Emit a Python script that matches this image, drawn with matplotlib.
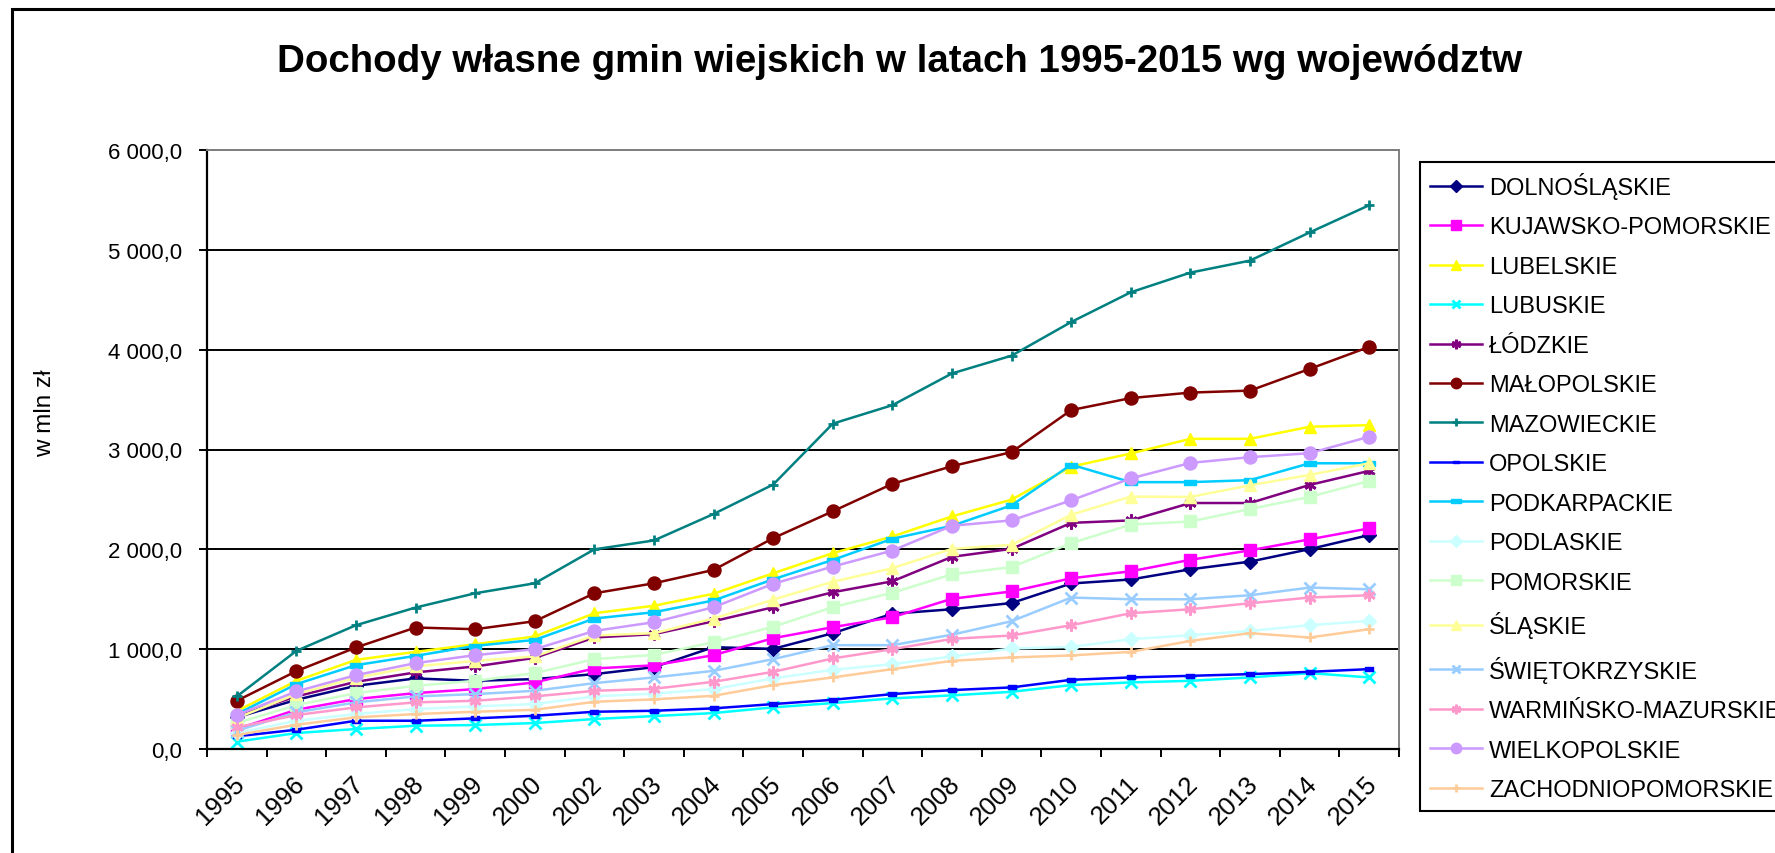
import matplotlib
matplotlib.use('Agg')
from matplotlib import pyplot as plt
from matplotlib.patches import Rectangle
from matplotlib.transforms import ScaledTranslation
from matplotlib.ticker import FuncFormatter, FixedLocator

plt.rcParams['font.family'] = ['Liberation Sans', 'DejaVu Sans']

years = ['1995', '1996', '1997', '1998', '1999', '2000', '2002', '2003', '2004', '2005',
         '2006', '2007', '2008', '2009', '2010', '2011', '2012', '2013', '2014', '2015']

# dochody w mln zl
dolnoslaskie = [317, 493, 633, 707, 683, 700, 750, 820, 1020, 1003, 1160, 1355, 1400, 1462, 1658, 1698, 1800, 1877, 2002, 2143]
kujawsko_pomorskie = [200, 393, 500, 560, 600, 667, 807, 838, 940, 1110, 1220, 1320, 1505, 1578, 1710, 1780, 1895, 1990, 2100, 2210]
lubelskie = [380, 683, 893, 973, 1050, 1127, 1360, 1435, 1555, 1760, 1962, 2129, 2330, 2498, 2828, 2960, 3107, 3107, 3228, 3244]
lubuskie = [73, 160, 200, 233, 240, 260, 300, 330, 360, 417, 460, 507, 537, 573, 640, 667, 683, 717, 760, 717]
lodzkie = [333, 527, 673, 767, 827, 913, 1117, 1150, 1280, 1420, 1570, 1680, 1925, 2005, 2265, 2290, 2464, 2464, 2645, 2786]
malopolskie = [483, 780, 1017, 1217, 1200, 1280, 1560, 1660, 1794, 2112, 2381, 2656, 2833, 2974, 3395, 3515, 3570, 3590, 3807, 4028]
mazowieckie = [527, 983, 1240, 1417, 1560, 1660, 2000, 2089, 2354, 2649, 3259, 3444, 3762, 3940, 4277, 4575, 4772, 4892, 5174, 5447]
opolskie = [127, 193, 283, 283, 307, 333, 373, 383, 407, 450, 493, 550, 590, 617, 693, 717, 733, 750, 773, 800]
podkarpackie = [350, 650, 840, 933, 1033, 1093, 1307, 1370, 1488, 1700, 1894, 2106, 2236, 2441, 2848, 2673, 2673, 2693, 2862, 2862]
podlaskie = [160, 283, 350, 400, 427, 450, 527, 555, 600, 707, 793, 850, 927, 1007, 1022, 1100, 1140, 1183, 1240, 1283]
pomorskie = [260, 440, 560, 633, 683, 760, 900, 943, 1070, 1224, 1421, 1565, 1750, 1822, 2062, 2248, 2279, 2404, 2525, 2685]
slaskie = [310, 550, 713, 827, 883, 927, 1137, 1160, 1307, 1496, 1675, 1811, 2005, 2045, 2346, 2528, 2525, 2641, 2746, 2862]
swietokrzyskie = [183, 367, 467, 527, 550, 583, 660, 717, 783, 900, 1040, 1040, 1145, 1280, 1517, 1500, 1500, 1540, 1617, 1600]
warminsko_mazurskie = [217, 340, 417, 467, 483, 527, 583, 603, 673, 773, 907, 1000, 1103, 1137, 1240, 1360, 1400, 1460, 1517, 1540]
wielkopolskie = [340, 577, 740, 860, 940, 1000, 1183, 1270, 1420, 1655, 1827, 1988, 2236, 2290, 2491, 2710, 2866, 2923, 2963, 3128]
zachodniopomorskie = [140, 243, 317, 350, 373, 393, 473, 497, 533, 640, 717, 800, 883, 917, 937, 973, 1083, 1160, 1117, 1200]

# maly prostokat jak "kreska" w Excelu
bar = [(-1, -0.4), (1, -0.4), (1, 0.4), (-1, 0.4), (-1, -0.4)]
star = (6, 2, 0)

series = [
    ('DOLNOŚLĄSKIE', dolnoslaskie, '#000080', 'D', 7.6),
    ('KUJAWSKO-POMORSKIE', kujawsko_pomorskie, '#FF00FF', 's', 8.8),
    ('LUBELSKIE', lubelskie, '#FFFF00', '^', 9.2),
    ('LUBUSKIE', lubuskie, '#00FFFF', 'x', 8),
    ('ŁÓDZKIE', lodzkie, '#800080', star, 8.6),
    ('MAŁOPOLSKIE', malopolskie, '#800000', 'o', 9.4),
    ('MAZOWIECKIE', mazowieckie, '#008080', '+', 7),
    ('OPOLSKIE', opolskie, '#0000FF', bar, 6),
    ('PODKARPACKIE', podkarpackie, '#00CCFF', bar, 9),
    ('PODLASKIE', podlaskie, '#CCFFFF', 'D', 7.6),
    ('POMORSKIE', pomorskie, '#CCFFCC', 's', 8.8),
    ('ŚLĄSKIE', slaskie, '#FFFF99', '^', 9.2),
    ('ŚWIĘTOKRZYSKIE', swietokrzyskie, '#99CCFF', 'x', 8),
    ('WARMIŃSKO-MAZURSKIE', warminsko_mazurskie, '#FF99CC', star, 8.6),
    ('WIELKOPOLSKIE', wielkopolskie, '#CC99FF', 'o', 9.4),
    ('ZACHODNIOPOMORSKIE', zachodniopomorskie, '#FFCC99', '+', 7.5),
]

fig = plt.figure(figsize=(17.75, 8.54), dpi=100)
ax = fig.add_axes([207 / 1775, 1 - 750 / 854, 1192 / 1775, 599 / 854])

x = list(range(len(years)))
for name, vals, color, marker, ms in series:
    mew = 2 if marker in ('x', '+') or marker == star else 1
    ax.plot(x, vals, color=color, lw=1.8, marker=marker, ms=ms,
            mfc=color, mec=color, mew=mew, label=name)

ax.set_xlim(-0.5, len(years) - 0.5)
ax.set_ylim(0, 6000)

# siatka i osie
ax.set_yticks(range(0, 6001, 1000))
ax.yaxis.set_major_formatter(FuncFormatter(lambda v, p: f'{v:,.1f}'.replace(',', ' ').replace('.', ',')))
ax.grid(axis='y', color='black', lw=1.4)
ax.set_axisbelow(True)
ax.tick_params(axis='y', direction='out', length=8 / 1.389, width=1.4, pad=12, labelsize=16)

ax.set_xticks(x)
ax.set_xticklabels(years)
ax.xaxis.set_minor_locator(FixedLocator([i - 0.5 for i in range(len(years) + 1)]))
ax.tick_params(axis='x', which='major', length=0, pad=22, labelsize=18.5)
ax.tick_params(axis='x', which='minor', direction='out', length=8 / 1.389, width=1.4)
for lab in ax.get_xticklabels():
    lab.set_rotation(45)
    lab.set_ha('right')
    lab.set_va('center')
    lab.set_rotation_mode('anchor')
    lab.set_transform(lab.get_transform() + ScaledTranslation(0.04, 0, fig.dpi_scale_trans))

for side in ['left', 'bottom']:
    ax.spines[side].set_color('black')
    ax.spines[side].set_linewidth(1.6)
for side in ['top', 'right']:
    ax.spines[side].set_color('#808080')
    ax.spines[side].set_linewidth(1.4)

fig.text(45 / 1775, 1 - 413 / 854, 'w mln zł', rotation=90, ha='center', va='center', fontsize=17.5)
fig.text(900 / 1775, 1 - 62 / 854, 'Dochody własne gmin wiejskich w latach 1995-2015 wg województw',
         ha='center', va='center', fontsize=27.7, fontweight='bold')

leg = fig.legend(loc='upper left', bbox_to_anchor=(1420 / 1775, 1 - 163 / 854), fontsize=17,
                 frameon=True, fancybox=False, edgecolor='black', framealpha=1,
                 borderaxespad=0, borderpad=0.42, labelspacing=0.74, markerscale=0.8,
                 handlelength=2.2, handletextpad=0.3)
leg.get_frame().set_linewidth(1.5)

# ramka obszaru wykresu (ucieta z prawej i z dolu)
fig.patches.append(Rectangle((12 / 1775, -0.2), 1.2, 1.2 - 10 / 854, transform=fig.transFigure,
                             fill=False, edgecolor='black', lw=2.2, clip_on=False))

fig.savefig('out.png', dpi=100)
